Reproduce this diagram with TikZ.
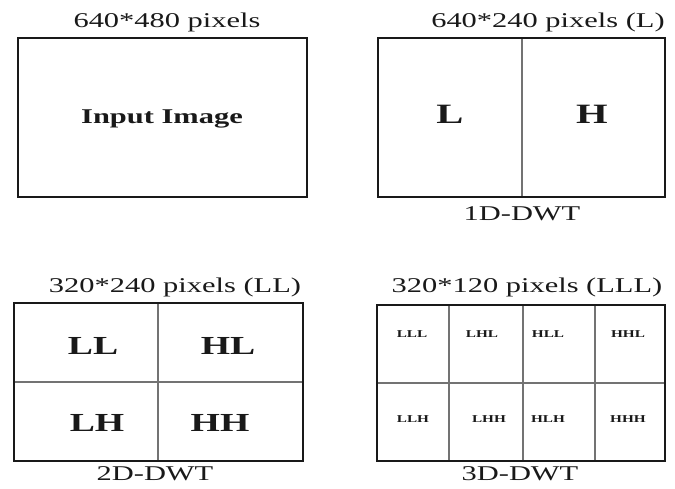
\documentclass[tikz,border=0pt]{standalone}
\usepackage{fontspec}
\usepackage{tikz}
\newfontfamily\widefont{Liberation Serif}[FakeStretch=1.45]
\definecolor{inkc}{RGB}{25,25,25}
\definecolor{divc}{RGB}{115,115,115}
\newcommand{\fsz}[1]{\widefont\fontsize{#1}{#1}\selectfont}

\begin{document}
\begin{tikzpicture}[x=1pt,y=-1pt,
  frame/.style={inkc,line width=2.4pt},
  divider/.style={divc,line width=1.3pt},
  title/.style={text=inkc,inner sep=0pt,font=\fsz{21}},
  tag/.style={text=inkc,inner sep=0pt,font=\fsz{#1}\bfseries}]
\useasboundingbox (0,0) rectangle (675,489);
% frame 1: input image
\draw[frame] (18,38) rectangle (307,197);
\node[title] (size1) at (167,22) {640*480 pixels};
\node[tag=21] (input) at (162,119) {Input Image};
% frame 2: 1D-DWT, split in two
\draw[divider] (522,38) -- (522,197);
\draw[frame] (378,38) rectangle (665,197);
\node[title] (size2) at (548,22) {640*240 pixels (L)};
\node[tag=28] (low) at (450,114) {L};
\node[tag=28] (high) at (592,114) {H};
\node[title] (cap2) at (522,214) {1D-DWT};
% frame 3: 2D-DWT, four quarters
\draw[divider] (158,303) -- (158,461);
\draw[divider] (14,382) -- (303,382);
\draw[frame] (14,303) rectangle (303,461);
\node[title] (size3) at (175,287) {320*240 pixels (LL)};
\node[tag=26] (ll) at (93,346) {LL};
\node[tag=26] (hl) at (228,346) {HL};
\node[tag=26] (lh) at (97,423) {LH};
\node[tag=26] (hh) at (220,423) {HH};
\node[title] (cap3) at (155,474) {2D-DWT};
% frame 4: 3D-DWT, eight cells
\foreach \x in {449,523,595}{
  \draw[divider] (\x,305) -- (\x,461);
}
\draw[divider] (377,383) -- (665,383);
\draw[frame] (377,305) rectangle (665,461);
\node[title] (size4) at (527,287) {320*120 pixels (LLL)};
\foreach \x/\lab/\nm in {412/LLL/lll,482/LHL/lhl,548/HLL/hll,628/HHL/hhl}{
  \node[tag=10.5] (\nm) at (\x,334) {\lab};
}
\foreach \x/\lab/\nm in {413/LLH/llh,489/LHH/lhh,548/HLH/hlh,628/HHH/hhh}{
  \node[tag=10.5] (\nm) at (\x,419) {\lab};
}
\node[title] (cap4) at (520,474) {3D-DWT};
\end{tikzpicture}
\end{document}
